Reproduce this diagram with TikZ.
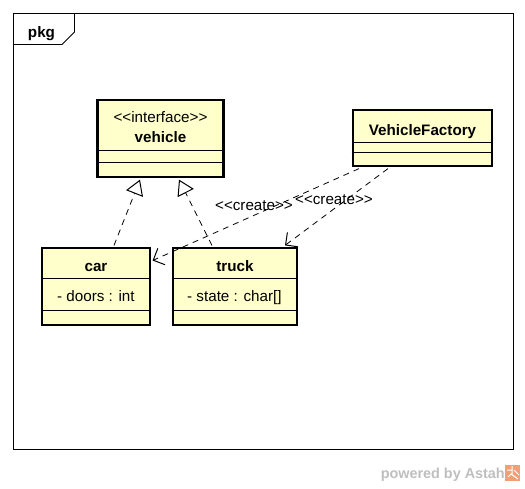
\documentclass[tikz,border=0pt]{standalone}
\usepackage{fontspec}
\setmainfont{Liberation Sans}
\usetikzlibrary{arrows.meta,calc}
\definecolor{clsfill}{RGB}{255,255,204}
\definecolor{astahgray}{RGB}{190,190,190}
\definecolor{astahorange}{RGB}{240,160,120}
\tikzset{
  cls/.style={draw=black, line width=2.6pt, fill=clsfill, inner sep=0pt},
  comp/.style={line width=0.8pt, black},
  txt/.style={inner sep=0pt, font=\fontsize{15.2}{17}\selectfont, anchor=base},
  btxt/.style={txt, font=\fontsize{15.2}{17}\selectfont\bfseries},
  lbl/.style={txt, anchor=base west},
  realize/.style={line width=0.8pt, dash pattern=on 6pt off 5pt, -{Triangle[open, length=15pt, width=18pt, line width=1pt, fill=white]}},
  dep/.style={line width=0.8pt, dash pattern=on 6pt off 5pt, -{Straight Barb[length=9pt, width=18pt, line width=1pt]}},
}
\begin{document}
\begin{tikzpicture}[x=1pt,y=-1pt]
\useasboundingbox (0,0) rectangle (525,488);
% frame
\draw[line width=0.8pt] (13,13) rectangle (513,449);
\draw[line width=0.8pt] (13,44.5) -- (62,44.5) -- (74.5,32) -- (74.5,13);
\node[btxt] (pkg) at (41.5,37.5) {pkg};
% vehicle
\node[cls, minimum width=126pt, minimum height=77pt] (veh) at (160.5,138.5) {};
\draw[comp] ($(veh.west)+(0,11.5)$) -- ($(veh.east)+(0,11.5)$);
\draw[comp] ($(veh.west)+(0,23.5)$) -- ($(veh.east)+(0,23.5)$);
\node[cls, fill=none, minimum width=126pt, minimum height=77pt] at (veh) {};
\node[txt] (vehst) at (160.5,122) {<{}<interface>{}>};
\node[btxt] (vehname) at (160.5,142) {vehicle};
% VehicleFactory
\node[cls, minimum width=139pt, minimum height=56pt] (vf) at (422.5,138) {};
\draw[comp] ($(vf.west)+(0,4)$) -- ($(vf.east)+(0,4)$);
\draw[comp] ($(vf.west)+(0,14)$) -- ($(vf.east)+(0,14)$);
\node[cls, fill=none, minimum width=139pt, minimum height=56pt] at (vf) {};
\node[btxt] (vfname) at (422.5,135) {VehicleFactory};
% car
\node[cls, minimum width=108pt, minimum height=77pt] (car) at (96,286.5) {};
\draw[comp] ($(car.west)+(0,-8.5)$) -- ($(car.east)+(0,-8.5)$);
\draw[comp] ($(car.west)+(0,23.5)$) -- ($(car.east)+(0,23.5)$);
\node[cls, fill=none, minimum width=108pt, minimum height=77pt] at (car) {};
\node[btxt] (carname) at (96,271) {car};
\node[lbl] (carattr) at (57,301) {- doors : int};
% truck
\node[cls, minimum width=124pt, minimum height=77pt] (truck) at (235,286.5) {};
\draw[comp] ($(truck.west)+(0,-8.5)$) -- ($(truck.east)+(0,-8.5)$);
\draw[comp] ($(truck.west)+(0,23.5)$) -- ($(truck.east)+(0,23.5)$);
\node[cls, fill=none, minimum width=124pt, minimum height=77pt] at (truck) {};
\node[btxt] (truckname) at (235,271) {truck};
\node[lbl] (truckattr) at (187,301) {- state : char[]};
% realizations
\draw[realize] ($(car.north)+(18,-1.3)$) -- ($(veh.south)+(-20.5,1.3)$);
\draw[realize] ($(truck.north)+(-23,-1.3)$) -- ($(veh.south)+(18.5,1.3)$);
% create dependencies
\draw[dep] ($(vf.south)+(-63.5,1.3)$) -- ($(car.east)+(1.3,-26)$);
\draw[dep] ($(vf.south)+(-34.5,1.3)$) -- ($(truck.north)+(50,-1.3)$);
\node[txt] (c1) at (254,210) {<{}<create>{}>};
\node[txt] (c2) at (334,204) {<{}<create>{}>};
% redraw box over lines
\node[cls, fill=none, minimum width=124pt, minimum height=77pt] at (truck) {};
% footer
\node[txt, anchor=base east, text=astahgray, font=\fontsize{14.4}{16}\selectfont\bfseries] (pw) at (505,478) {powered by Astah};
\fill[astahorange] (505,465) rectangle (520,481);
\draw[white, line width=1pt] (507,470) -- (512,470) (512,466) -- (512,474) (508,477) -- (511,474) -- (518,479) (514,470) -- (519,475);
\end{tikzpicture}
\end{document}
